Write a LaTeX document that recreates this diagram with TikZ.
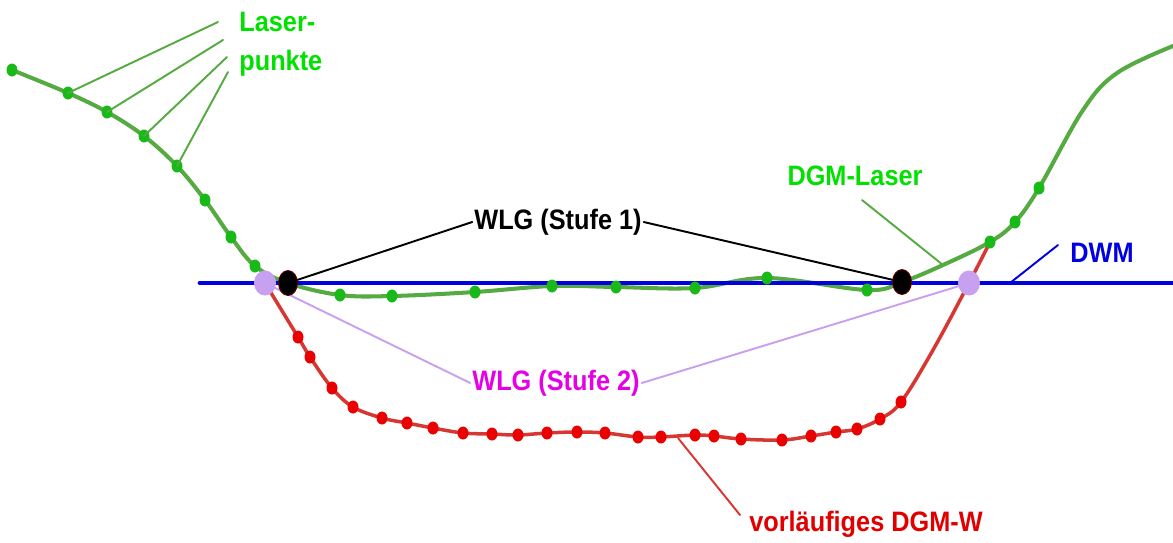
\documentclass[tikz,border=0pt]{standalone}
\usepackage{fontspec}
\setmainfont[FakeStretch=0.9]{Liberation Sans}
\usetikzlibrary{shapes.geometric}
\definecolor{lgreen}{RGB}{85,170,65}
\definecolor{dgreen}{RGB}{25,185,25}
\definecolor{tgreen}{RGB}{0,225,0}
\definecolor{lred}{RGB}{215,55,50}
\definecolor{dred}{RGB}{235,0,0}
\definecolor{tred}{RGB}{225,0,0}
\definecolor{lilac}{RGB}{200,160,240}
\definecolor{tmag}{RGB}{230,0,230}
\definecolor{wblue}{RGB}{0,0,225}
\begin{document}
\begin{tikzpicture}[x=0.02cm, y=-0.02cm, font=\bfseries\fontsize{16}{22}\selectfont, line join=round, line cap=round,
  gdot/.style={ellipse, fill=dgreen, inner sep=0pt, minimum width=0.22cm, minimum height=0.26cm},
  rdot/.style={ellipse, fill=dred, inner sep=0pt, minimum width=0.22cm, minimum height=0.26cm},
  wdot/.style={ellipse, inner sep=0pt, minimum width=0.38cm, minimum height=0.5cm},
  leader/.style={line width=1.1pt}]
\useasboundingbox (0,0) rectangle (1173,542);
% Laserpunkte und vorlaeufiges DGM-W
\foreach \x/\y [count=\i] in {12/70, 68/93, 107/112, 144/136, 177/166, 205/200, 231/237, 255/266, 340/295, 392/296, 475/292, 552/286, 616/287, 695/288, 767/278, 867/290, 990/242, 1015/222, 1039/188}
  \coordinate (g\i) at (\x,\y);
\foreach \x/\y [count=\i] in {298/337, 310/357, 332/388, 353/407, 382/418, 407/423, 433/428, 463/433, 492/434, 518/435, 547/433, 577/432, 605/433, 638/437, 661/437, 695/435, 714/436, 741/439, 782/440, 811/436, 836/432, 857/429, 880/419, 901/402}
  \coordinate (r\i) at (\x,\y);
\coordinate (wl1) at (288,283); \coordinate (wr1) at (902,282);
\coordinate (wl2) at (265,283); \coordinate (wr2) at (969,283);
\coordinate (dl) at (943,265); \coordinate (dw) at (1010,283);
\coordinate (dr) at (678,438);
% Linien
\draw[lred, line width=2pt] plot[smooth, tension=0.6] coordinates {(wl2) (r1) (r2) (r3) (r4) (r5) (r6) (r7) (r8) (r9) (r10) (r11) (r12) (r13) (r14) (r15) (r16) (r17) (r18) (r19) (r20) (r21) (r22) (r23) (r24) (933,350) (wr2) (g17)};
\draw[lgreen, line width=2.3pt] plot[smooth, tension=0.6] coordinates {(g1) (g2) (g3) (g4) (g5) (g6) (g7) (g8) (wl1) (g9) (g10) (g11) (g12) (g13) (g14) (g15) (g16) (wr1) (dl) (g17) (g18) (g19) (1083,110) (1117,73) (1173,46)};
\draw[wblue, line width=2.8pt] (200,283) -- (1173,283);
\foreach \i in {1,...,19} \node[gdot] at (g\i) {};
\foreach \i in {1,...,24} \node[rdot] at (r\i) {};
% Beschriftungen
\node[tgreen, align=left, anchor=west, inner sep=0pt] (laser) at (239,44) {Laser-\\punkte};
\node[inner sep=1pt] (stufe1) at (558,222) {WLG (Stufe 1)};
\node[tmag, inner sep=1pt] (stufe2) at (556,383) {WLG (Stufe 2)};
\node[tgreen, inner sep=1pt] (dgmlaser) at (855,176) {DGM-Laser};
\node[wblue, inner sep=1pt] (dwm) at (1102,253) {DWM};
\node[tred, inner sep=1pt] (dgmw) at (866,524) {vorläufiges DGM-W};
\draw[lgreen, leader] (218,22) -- (g2);
\draw[lgreen, leader] (223,40) -- (g3);
\draw[lgreen, leader] (227,57) -- (g4);
\draw[lgreen, leader] (228,72) -- (g5);
\draw[lgreen, leader] (862,200) -- (dl);
\draw[wblue, leader] (1058,245) -- (dw);
\draw[lred, leader] (dr) -- (740,515);
\draw[leader] (stufe1.west) -- (wl1);
\draw[leader] (stufe1.east) -- (wr1);
\draw[lilac, leader] (stufe2.west) -- (wl2);
\draw[lilac, leader] (stufe2.east) -- (wr2);
% Wasserlinienpunkte
\node[wdot, fill=lilac, minimum width=0.44cm] at (wl2) {};
\node[wdot, fill=lilac, minimum width=0.44cm] at (wr2) {};
\node[wdot, fill=black, draw=black!60!red, line width=0.5pt] at (wl1) {};
\node[wdot, fill=black, draw=black!60!red, line width=0.5pt] at (wr1) {};
\end{tikzpicture}
\end{document}
